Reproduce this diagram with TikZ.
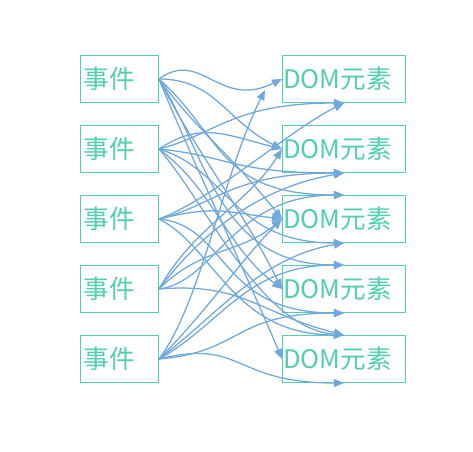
\documentclass[tikz,border=0pt]{standalone}
\usepackage{fontspec}
\setmainfont{Noto Sans CJK SC}
\usepackage{xcolor}
\usepackage{tikz}
\usetikzlibrary{arrows.meta}

\definecolor{mint}{RGB}{82,206,176}
\definecolor{wire}{RGB}{111,168,220}

\tikzset{
  evtbox/.style={draw=mint, line width=0.75pt, text=mint, anchor=north west,
    minimum height=35.25pt, inner xsep=2.5pt, text width=53.5pt, align=left,
    font=\fontsize{19.2}{21}\selectfont},
  dombox/.style={evtbox, inner xsep=0.6pt, text width=91pt},
  bind/.style={draw=wire, line width=0.95pt, -{Triangle[length=7.5pt,width=6pt]}}
}

\begin{document}
\begin{tikzpicture}[x=0.75pt,y=0.75pt,yscale=-1,xscale=1]

\useasboundingbox (0,0) rectangle (473,451);

\foreach \i in {1,...,5}{
  \node[evtbox] (e\i) at (80,{55+70*(\i-1)}) {事件};
  \node[dombox] (d\i) at (282,{55+70*(\i-1)}) {DOM元素};
}
\coordinate (d1x) at (265,90);

% event -> element bindings
\foreach \s/\t/\ax/\ay/\bx/\by in {
  e1/d1.west/30/-22/-45/22,
  e1/d2.west/40/0/-40/-20,
  e1/d3.north/45/40/-90/0,
  e1/d3.west/30/40/-40/-50,
  e1/d4.north/35/55/-90/0,
  e1/d4.west/25/50/-30/-60,
  e1/d5.west/20/50/-25/-60,
  e2/d1.south/40/-10/-80/0,
  e2/d2.west/30/-20/-40/-10,
  e2/d2.south/50/5/-80/0,
  e2/d3.south/50/15/-80/0,
  e2/d4.west/40/30/-40/-30,
  e2/d5.north/35/40/-60/-5,
  e3/d1.south/40/-15/-40/20,
  e3/d2.south/40/-10/-80/0,
  e3/d3.west/40/-10/-40/-5,
  e3/d4.south/50/5/-90/0,
  e3/d5.north/40/20/-80/0,
  e4/d2.west/25/-45/-25/40,
  e4/d2.south/30/-40/-60/10,
  e4/d3.north/40/-5/-80/0,
  e4/d3.west/30/-30/-30/25,
  e4/d5.north/60/-5/-60/-15,
  e5/d1x/30/-40/-30/60,
  e5/d3.west/35/-35/-30/30,
  e5/d3.south/40/-30/-60/10,
  e5/d4.north/45/-25/-70/0,
  e5/d4.south/60/-5/-80/0,
  e5/d5.south/60/-15/-80/0}
  \draw[bind] (\s.east) .. controls +({1.4*\ax},{1.4*\ay}) and +({1.4*\bx},{1.4*\by}) .. (\t);

\end{tikzpicture}
\end{document}
